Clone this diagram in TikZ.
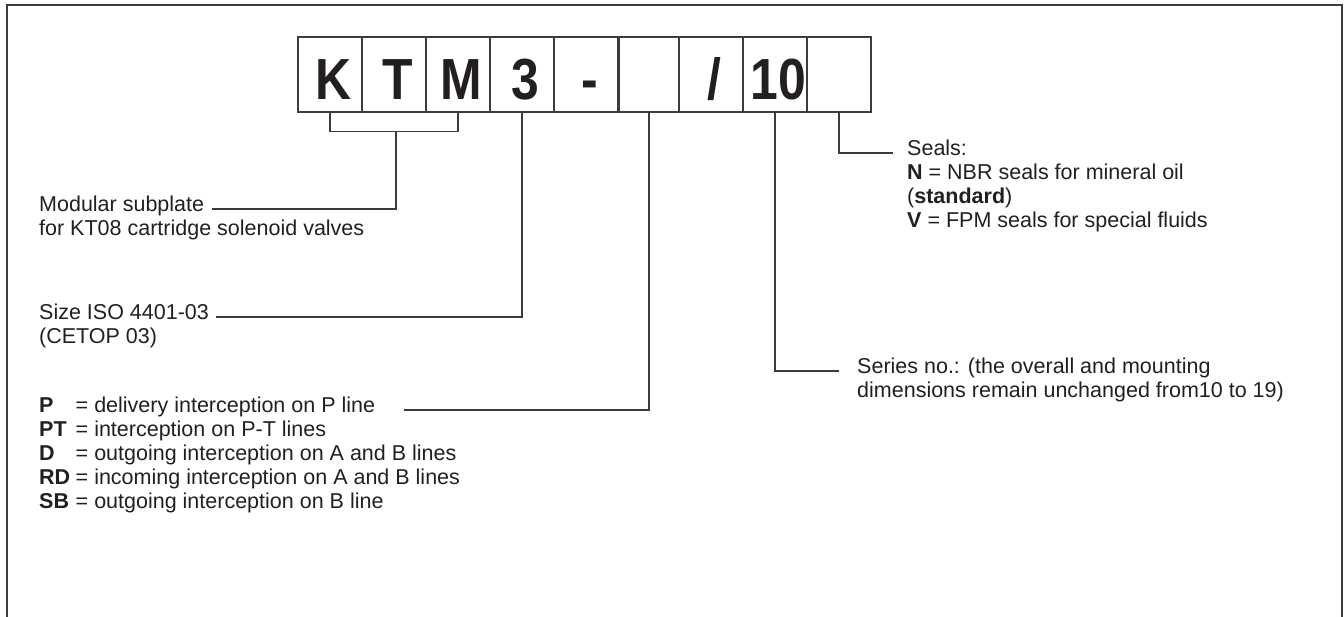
\documentclass[tikz,border=0pt]{standalone}
\usepackage{fontspec}
\setmainfont{Liberation Sans}
\newfontfamily\codefont[FakeStretch=0.86]{Liberation Sans}
\definecolor{ink}{RGB}{35,31,32}
\definecolor{rulegray}{RGB}{60,60,60}

\begin{document}
\begin{tikzpicture}[x=1pt, y=-1pt,
    codebox/.style={draw=rulegray, line width=1.3pt, minimum width=64pt, minimum height=75pt,
        inner sep=0pt, text height=49pt, text depth=0pt, text=ink,
        font=\fontsize{58}{60}\codefont\bfseries, execute at begin node={\hspace*{7pt}}},
    lead/.style={draw=rulegray, line width=1.1pt},
    txt/.style={anchor=base west, align=left, inner sep=0pt, text=ink,
        font=\fontsize{21.5}{24}\selectfont}]
    \useasboundingbox (0,0) rectangle (1344,616);

    % Frame
    \draw[rulegray, line width=2pt] (7,630) -- (7,5) -- (1342,5) -- (1342,630);

    % Code boxes
    \node[codebox] (k) at (330,74.5) {K};
    \node[codebox] (t) at (394,74.5) {T};
    \node[codebox] (m) at (458,74.5) {M};
    \node[codebox] (size) at (522,74.5) {3};
    \node[codebox] (dash) at (586,74.5) {-};
    \node[codebox, minimum width=60pt] (var) at (649,74.5) {};
    \node[codebox] (slash) at (711,74.5) {/};
    \node[codebox] (ser) at (775,74.5) {10};
    \node[codebox] (seal) at (839,74.5) {};

    % Texts (anchored at the baseline of their last line)
    \node[txt] (modul) at (39,235) {Modular subplate\\for KT08 cartridge solenoid valves};
    \node[txt] (sizetxt) at (39,343) {Size ISO 4401-03\\(CETOP 03)};
    \node[txt] (vartxt) at (39,508) {\makebox[1.7em][l]{\textbf{P}}= delivery interception on P line\\
        \makebox[1.7em][l]{\textbf{PT}}= interception on P-T lines\\
        \makebox[1.7em][l]{\textbf{D}}= outgoing interception on A and B lines\\
        \makebox[1.7em][l]{\textbf{RD}}= incoming interception on A and B lines\\
        \makebox[1.7em][l]{\textbf{SB}}= outgoing interception on B line};
    \node[txt] (sertxt) at (857,397) {Series no.: (the overall and mounting\\dimensions remain unchanged from10 to 19)};
    \node[txt] (sealtxt) at (907,227) {Seals:\\\textbf{N} = NBR seals for mineral oil\\(\textbf{standard})\\\textbf{V} = FPM seals for special fluids};

    % Leader lines
    \coordinate (brk) at (396,131.7);
    \coordinate (modend) at (212,209);
    \coordinate (sizeend) at (216,317);
    \coordinate (varend) at (404,410);
    \coordinate (serend) at (839,371);
    \coordinate (sealend) at (893,153);
    \draw[lead] (k.south) -- (k.south |- brk) -| (m.south);
    \draw[lead] (brk) |- (modend);
    \draw[lead] (size.south) |- (sizeend);
    \draw[lead] (var.south) |- (varend);
    \draw[lead] (ser.south) |- (serend);
    \draw[lead] (seal.south) |- (sealend);
\end{tikzpicture}
\end{document}
